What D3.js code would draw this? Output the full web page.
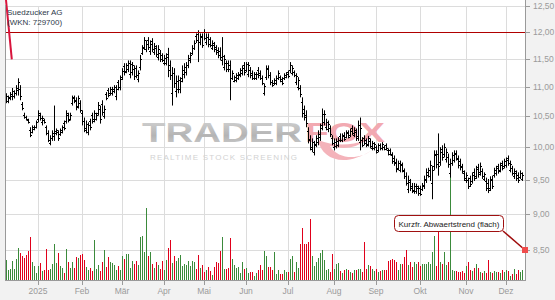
<!DOCTYPE html>
<html>
<head>
<meta charset="utf-8">
<script src="https://d3js.org/d3.v7.min.js"></script>
<style>
  body { margin: 0; background: #f2f2f2; }
  svg { display: block; font-family: "Liberation Sans", Arial, sans-serif; }
</style>
</head>
<body>
<script>
// Suedzucker AG, daily OHLC (EUR), one entry per trading day, 9 Dec 2024 .. 11 Dec 2025
var open = [
 10.78,10.76,10.81,10.84,10.84,10.90,10.95,10.97,10.70,10.53, 10.49,10.44,10.28,10.25,10.29,10.33,10.45,10.53,10.40,10.44,
 10.32,10.23,10.07,10.14,10.18,10.22,10.24,10.21,10.25,10.39, 10.43,10.52,10.46,10.72,10.82,10.77,10.68,10.72,10.55,10.43,
 10.27,10.24,10.42,10.52,10.45,10.46,10.56,10.62,10.71,10.51, 10.88,10.94,10.89,10.89,10.92,10.84,11.08,11.00,11.17,11.37,
 11.28,11.31,11.23,11.26,11.32,11.33,11.13,11.36,11.61,11.72, 11.67,11.84,11.64,11.82,11.62,11.70,11.54,11.61,11.56,11.43,
 11.43,11.58,11.38,10.90,11.25,10.92,10.97,10.96,11.15,11.22, 11.26,11.39,11.47,11.61,11.70,11.93,11.96,11.80,11.92,12.00,
 11.80,11.91,11.86,11.70,11.76,11.71,11.66,11.65,11.48,11.36, 11.42,11.42,11.38,11.16,11.11,11.12,11.15,11.21,11.25,11.38,
 11.30,11.23,11.30,11.25,11.15,11.15,11.30,11.25,11.16,10.90, 11.18,11.33,11.21,11.09,11.06,11.07,11.16,11.17,11.14,11.15,
 11.18,11.26,11.29,11.25,11.26,11.08,11.00,10.98,10.74,10.62, 10.53,10.26,10.13,9.97,9.93,10.05,10.09,10.17,10.36,10.41,
 10.32,10.29,10.30,10.15,10.00,10.02,10.04,10.18,10.11,10.20, 10.17,10.24,10.19,10.31,10.20,10.25,10.18,10.08,10.12,10.15,
 10.11,10.05,10.10,9.99,9.98,10.00,9.95,10.03,9.98,10.01, 10.03,9.96,9.95,9.88,9.83,9.77,9.68,9.65,9.72,9.63,
 9.56,9.36,9.47,9.41,9.33,9.33,9.37,9.37,9.36,9.41, 9.50,9.57,9.55,9.45,9.71,9.89,9.90,9.77,9.97,9.89,
 9.81,9.85,9.60,9.76,9.80,9.91,9.82,9.78,9.70,9.60, 9.49,9.49,9.52,9.48,9.62,9.56,9.69,9.61,9.63,9.51,
 9.48,9.45,9.38,9.51,9.57,9.60,9.70,9.65,9.75,9.71, 9.72,9.83,9.65,9.67,9.55,9.60,9.57,9.54,9.51
];
var high = [
 10.89,10.85,10.91,10.98,10.94,11.03,11.15,11.03,10.74,10.56, 10.51,10.46,10.32,10.35,10.35,10.43,10.60,10.56,10.51,10.46,
 10.35,10.27,10.19,10.27,10.68,10.30,10.27,10.30,10.35,10.43, 10.60,10.56,10.56,10.85,10.85,10.82,10.85,10.77,10.60,10.48,
 10.43,10.40,10.46,10.56,10.60,10.56,10.74,10.68,10.77,10.68, 10.91,10.98,11.00,11.00,11.03,11.03,11.12,11.20,11.33,11.42,
 11.42,11.47,11.47,11.44,11.38,11.38,11.29,11.57,11.75,11.90, 11.84,11.90,11.84,11.88,11.79,11.75,11.75,11.66,11.60,11.57,
 11.60,11.70,11.47,11.35,11.33,11.20,11.20,11.17,11.38,11.42, 11.44,11.57,11.62,11.75,11.84,11.97,12.03,11.97,11.97,12.05,
 11.97,11.97,11.90,11.84,11.81,11.75,11.71,11.71,11.90,11.57, 11.47,11.47,11.47,11.29,11.20,11.24,11.26,11.33,11.38,11.44,
 11.44,11.44,11.35,11.29,11.26,11.26,11.35,11.29,11.20,11.06, 11.38,11.38,11.26,11.12,11.15,11.20,11.29,11.20,11.17,11.24,
 11.26,11.29,11.44,11.38,11.29,11.24,11.17,11.03,10.82,10.68, 10.60,10.32,10.19,10.14,10.10,10.19,10.27,10.38,10.63,10.60,
 10.46,10.43,10.35,10.19,10.14,10.14,10.16,10.22,10.22,10.24, 10.27,10.27,10.30,10.35,10.32,10.30,10.43,10.48,10.16,10.19,
 10.14,10.18,10.14,10.10,10.08,10.03,10.06,10.06,10.08,10.03, 10.06,9.98,9.98,9.92,9.87,9.82,9.79,9.79,9.76,9.67,
 9.61,9.56,9.51,9.45,9.45,9.44,9.41,9.41,9.45,9.56, 9.67,9.68,9.79,9.71,9.95,9.95,10.22,10.00,10.03,10.06,
 9.98,9.90,9.82,9.92,9.95,9.95,9.87,9.82,9.74,9.64, 9.61,9.53,9.56,9.61,9.67,9.71,9.74,9.76,9.67,9.61,
 9.53,9.51,9.55,9.56,9.68,9.71,9.74,9.76,9.79,9.82, 9.84,9.87,9.79,9.71,9.67,9.64,9.61,9.64,9.61
];
var low = [
 10.72,10.72,10.77,10.77,10.80,10.85,10.85,10.77,10.60,10.46, 10.43,10.38,10.16,10.22,10.27,10.30,10.40,10.43,10.35,10.38,
 10.19,10.08,10.03,10.10,10.10,10.19,10.10,10.18,10.22,10.27, 10.38,10.40,10.43,10.68,10.72,10.60,10.63,10.56,10.35,10.24,
 10.22,10.19,10.27,10.38,10.40,10.43,10.51,10.38,10.51,10.46, 10.77,10.82,10.85,10.85,10.89,10.77,10.94,10.94,11.12,11.20,
 11.24,11.26,11.15,11.20,11.12,11.15,11.08,11.29,11.57,11.66, 11.62,11.66,11.57,11.62,11.57,11.53,11.47,11.44,11.44,11.38,
 11.38,11.17,11.12,10.68,10.98,10.82,10.89,10.89,11.08,11.15, 11.20,11.33,11.42,11.57,11.66,11.79,11.44,11.75,11.70,11.84,
 11.75,11.71,11.71,11.66,11.62,11.57,11.51,11.47,11.38,11.29, 11.26,11.26,10.77,11.12,11.08,11.08,11.12,11.17,11.20,11.20,
 11.26,11.17,11.15,11.12,11.12,11.12,11.15,11.12,11.03,10.85, 11.12,11.15,11.03,11.00,11.03,11.03,11.12,11.08,11.03,11.12,
 11.15,11.15,11.24,11.20,11.17,11.03,10.94,10.82,10.48,10.43, 10.32,10.06,9.95,9.92,9.87,10.00,10.03,10.10,10.27,10.35,
 10.27,10.24,10.16,10.03,9.95,9.98,10.00,10.08,10.08,10.10, 10.14,10.14,10.16,10.19,10.16,10.10,10.10,9.95,10.00,10.03,
 10.00,10.01,9.98,9.95,9.95,9.90,9.92,9.95,9.95,9.95, 9.95,9.87,9.87,9.74,9.71,9.61,9.64,9.61,9.61,9.51,
 9.41,9.30,9.33,9.30,9.29,9.29,9.26,9.26,9.33,9.36, 9.45,9.53,9.48,9.21,9.64,9.67,9.56,9.71,9.79,9.84,
 9.76,9.68,9.53,9.71,9.76,9.79,9.67,9.64,9.59,9.48, 9.45,9.36,9.39,9.44,9.48,9.51,9.53,9.56,9.51,9.48,
 9.33,9.30,9.33,9.36,9.53,9.56,9.59,9.61,9.64,9.67, 9.68,9.71,9.61,9.56,9.51,9.48,9.45,9.51,9.48
];
var close = [
 10.85,10.82,10.88,10.93,10.90,10.98,11.08,10.85,10.64,10.49, 10.46,10.40,10.20,10.32,10.33,10.40,10.55,10.47,10.48,10.40,
 10.23,10.12,10.15,10.23,10.26,10.27,10.14,10.27,10.32,10.31, 10.55,10.44,10.53,10.81,10.76,10.66,10.80,10.61,10.42,10.30,
 10.38,10.35,10.32,10.43,10.55,10.53,10.69,10.45,10.58,10.63, 10.81,10.86,10.96,10.96,10.99,10.97,10.99,11.14,11.28,11.26,
 11.38,11.42,11.40,11.38,11.19,11.21,11.24,11.50,11.70,11.84, 11.78,11.72,11.77,11.68,11.73,11.59,11.68,11.50,11.48,11.52,
 11.54,11.30,11.20,11.25,11.07,11.10,11.12,11.10,11.30,11.35, 11.38,11.51,11.57,11.70,11.79,11.84,11.80,11.91,11.76,11.89,
 11.91,11.78,11.76,11.79,11.67,11.62,11.56,11.53,11.55,11.50, 11.32,11.31,11.15,11.25,11.17,11.20,11.22,11.29,11.34,11.26,
 11.40,11.38,11.20,11.16,11.22,11.23,11.20,11.16,11.07,11.01, 11.32,11.21,11.08,11.03,11.12,11.16,11.25,11.11,11.07,11.21,
 11.23,11.19,11.39,11.34,11.20,11.19,11.12,10.87,10.56,10.49, 10.39,10.12,10.01,10.08,10.04,10.14,10.21,10.31,10.54,10.54,
 10.41,10.38,10.21,10.07,10.09,10.10,10.12,10.11,10.18,10.13, 10.23,10.17,10.26,10.23,10.28,10.15,10.35,10.30,10.04,10.07,
 10.04,10.14,10.02,10.06,10.05,9.93,10.03,9.98,10.05,9.97, 9.98,9.90,9.89,9.78,9.75,9.66,9.75,9.74,9.65,9.55,
 9.45,9.50,9.37,9.34,9.41,9.40,9.30,9.29,9.42,9.51, 9.62,9.64,9.72,9.65,9.88,9.74,9.70,9.93,9.85,10.00,
 9.93,9.74,9.76,9.87,9.90,9.83,9.72,9.69,9.63,9.52, 9.57,9.40,9.43,9.57,9.53,9.66,9.58,9.71,9.55,9.58,
 9.38,9.35,9.50,9.41,9.64,9.67,9.63,9.72,9.68,9.78, 9.80,9.75,9.74,9.60,9.63,9.52,9.49,9.60,9.57
];
// volume in 1000 shares
var volume = [
 200,100,110,190,110,210,320,270,240,220, 250,290,430,180,140,70,140,170,90,100,
 310,100,110,160,360,170,270,140,120,70, 310,180,120,180,120,230,220,250,260,200,
 130,100,120,90,400,110,150,90,180,300, 130,230,180,170,150,100,140,100,240,210,
 260,260,120,190,160,190,150,430,440,280, 720,240,280,160,120,180,150,110,190,100,
 200,320,400,170,240,190,220,250,140,160, 150,190,140,190,180,110,250,120,150,80,
 100,130,90,50,130,180,170,290,430,110, 110,120,420,210,150,120,130,70,180,110,
 120,70,80,80,40,70,100,150,100,290, 240,130,130,100,280,60,100,60,60,100,
 80,80,210,240,80,180,120,360,520,360, 360,380,610,240,140,180,220,270,300,200,
 100,110,80,260,110,160,170,90,70,100, 110,100,80,70,100,100,110,110,80,380,
 110,150,140,110,90,110,80,90,100,100, 100,190,200,210,200,180,100,160,160,230,
 300,150,180,130,180,160,180,140,160,160, 160,180,160,280,440,140,520,180,160,280,
 150,180,1030,100,90,90,80,80,90,70, 140,180,100,90,120,160,120,80,70,90,
 70,200,80,70,90,80,80,70,100,80, 100,90,40,60,110,60,100,80,100
];

// x axis: index of the first trading day of each month
var monthIdx = [16, 38, 58, 79, 99, 120, 141, 164, 185, 207, 230, 250];
var monthLabels = ["2025", "Feb", "Mär", "Apr", "Mai", "Jun", "Jul", "Aug", "Sep", "Okt", "Nov", "Dez"];
var priceTicks = [8.5, 9, 9.5, 10, 10.5, 11, 11.5, 12, 12.5];

var resistance = 12.0;
var trendLine = [[0, 12.62], [2.9, 11.49]];
var signalLevel = 8.5;
var signalText = "Kurzfr. Abwaertstrend (flach)";
var titleLines = ["Suedzucker AG", "(WKN: 729700)"];

var svgWidth = 555;
var svgHeight = 300;
var plot = { left: 5, right: 525, top: 0, bottom: 280 };

var svg = d3.select("body").append("svg")
  .attr("width", svgWidth)
  .attr("height", svgHeight);

svg.append("rect")
  .attr("x", 0).attr("y", 0).attr("width", svgWidth).attr("height", svgHeight)
  .attr("fill", "#f2f2f2");
svg.append("rect")
  .attr("x", plot.left).attr("y", plot.top)
  .attr("width", plot.right - plot.left).attr("height", plot.bottom - plot.top)
  .attr("fill", "#ffffff");

var x = d3.scaleLinear().domain([0, 258]).range([6, 522]);
var y = d3.scaleLog().domain([8.5, 12.5]).range([250, 6]);
var yVol = d3.scaleLinear().domain([0, 1000]).range([plot.bottom, plot.bottom - 100]);

var fmt = d3.formatLocale({ decimal: ",", thousands: ".", grouping: [3], currency: ["", "€"] }).format(".2f");

// grid
var grid = svg.append("g").attr("stroke", "#dcdcdc").attr("stroke-width", 1);
grid.selectAll(".hgrid").data(priceTicks).enter().append("line")
  .attr("x1", plot.left).attr("x2", plot.right)
  .attr("y1", d => Math.round(y(d)) + 0.5).attr("y2", d => Math.round(y(d)) + 0.5);
grid.selectAll(".vgrid").data(monthIdx).enter().append("line")
  .attr("x1", d => Math.round(x(d)) + 0.5).attr("x2", d => Math.round(x(d)) + 0.5)
  .attr("y1", 6).attr("y2", plot.bottom);

// watermark
var wm = svg.append("g");
var grad = svg.append("defs").append("linearGradient")
  .attr("id", "wmgrey").attr("x1", 0).attr("y1", 0).attr("x2", 0).attr("y2", 1);
grad.append("stop").attr("offset", "0%").attr("stop-color", "#d6d6d6");
grad.append("stop").attr("offset", "60%").attr("stop-color", "#b4b4b4");
grad.append("stop").attr("offset", "100%").attr("stop-color", "#cfcfcf");
wm.append("path")
  .attr("d", "M318,140 C322,160 345,168 372,150 C360,160 338,160 330,146 C345,150 356,148 366,140 C350,146 334,146 318,140 Z")
  .attr("fill", "#f4b3ba");
wm.append("text")
  .attr("x", 142).attr("y", 142)
  .attr("font-size", 28).attr("font-weight", "bold")
  .attr("textLength", 160).attr("lengthAdjust", "spacingAndGlyphs")
  .attr("fill", "url(#wmgrey)")
  .text("TRADER");
wm.append("text")
  .attr("x", 305).attr("y", 142)
  .attr("font-size", 28).attr("font-weight", "bold")
  .attr("textLength", 80).attr("lengthAdjust", "spacingAndGlyphs")
  .attr("fill", "#f2a9b1")
  .text("FOX");
wm.append("text")
  .attr("x", 150).attr("y", 160)
  .attr("font-size", 8)
  .attr("textLength", 147).attr("lengthAdjust", "spacing")
  .attr("fill", "#d2d2d2")
  .text("REALTIME STOCK SCREENING");

// volume bars
var bars = d3.range(close.length);
svg.append("g").selectAll("rect").data(bars).enter().append("rect")
  .attr("x", i => Math.round(x(i)))
  .attr("y", i => yVol(volume[i]))
  .attr("width", 1)
  .attr("height", i => plot.bottom - yVol(volume[i]))
  .attr("fill", i => close[i] >= open[i] ? "#3b8a3b" : "#e0001b");

// OHLC bars
var ohlc = svg.append("g").attr("stroke", "#000").attr("stroke-width", 1);
ohlc.selectAll(".hl").data(bars).enter().append("line")
  .attr("x1", i => Math.round(x(i)) + 0.5).attr("x2", i => Math.round(x(i)) + 0.5)
  .attr("y1", i => y(high[i])).attr("y2", i => y(low[i]));
ohlc.selectAll(".op").data(bars).enter().append("line")
  .attr("x1", i => Math.round(x(i)) - 1).attr("x2", i => Math.round(x(i)))
  .attr("y1", i => Math.round(y(open[i])) + 0.5).attr("y2", i => Math.round(y(open[i])) + 0.5);
ohlc.selectAll(".cl").data(bars).enter().append("line")
  .attr("x1", i => Math.round(x(i)) + 1).attr("x2", i => Math.round(x(i)) + 2)
  .attr("y1", i => Math.round(y(close[i])) + 0.5).attr("y2", i => Math.round(y(close[i])) + 0.5);

// resistance line at 12,00
svg.append("line")
  .attr("x1", plot.left).attr("x2", plot.right)
  .attr("y1", Math.round(y(resistance)) + 0.5).attr("y2", Math.round(y(resistance)) + 0.5)
  .attr("stroke", "#b00000").attr("stroke-width", 1);

// old trend line top left
svg.append("line")
  .attr("x1", x(trendLine[0][0])).attr("y1", y(trendLine[0][1]))
  .attr("x2", x(trendLine[1][0])).attr("y2", y(trendLine[1][1]))
  .attr("stroke", "#d8143c").attr("stroke-width", 2);

// axes frame
svg.append("line")
  .attr("x1", plot.left + 0.5).attr("x2", plot.left + 0.5)
  .attr("y1", 5).attr("y2", plot.bottom)
  .attr("stroke", "#9a9a9a");
svg.append("line")
  .attr("x1", plot.right + 0.5).attr("x2", plot.right + 0.5)
  .attr("y1", 0).attr("y2", plot.bottom + 1)
  .attr("stroke", "#9a9a9a");
svg.append("line")
  .attr("x1", plot.left).attr("x2", plot.right + 1)
  .attr("y1", plot.bottom + 0.5).attr("y2", plot.bottom + 0.5)
  .attr("stroke", "#9a9a9a");

// right price axis
var yAxis = svg.append("g");
yAxis.selectAll("line").data(priceTicks).enter().append("line")
  .attr("x1", plot.right).attr("x2", plot.right + 5)
  .attr("y1", d => Math.round(y(d)) + 0.5).attr("y2", d => Math.round(y(d)) + 0.5)
  .attr("stroke", "#9a9a9a");
yAxis.selectAll("text").data(priceTicks).enter().append("text")
  .attr("x", plot.right + 8)
  .attr("y", d => y(d) + 3)
  .attr("font-size", 8.5)
  .attr("fill", "#9a9a9a")
  .text(d => fmt(d));

// bottom month axis
var xAxis = svg.append("g");
xAxis.selectAll("line").data(monthIdx).enter().append("line")
  .attr("x1", d => Math.round(x(d)) + 0.5).attr("x2", d => Math.round(x(d)) + 0.5)
  .attr("y1", plot.bottom).attr("y2", plot.bottom + 5)
  .attr("stroke", "#9a9a9a");
xAxis.selectAll("text").data(monthIdx).enter().append("text")
  .attr("x", d => x(d))
  .attr("y", 294)
  .attr("text-anchor", "middle")
  .attr("font-size", 8.5)
  .attr("fill", "#9a9a9a")
  .text((d, i) => monthLabels[i]);

// title
svg.append("g").selectAll("text").data(titleLines).enter().append("text")
  .attr("x", 7)
  .attr("y", (d, i) => 15 + i * 10)
  .attr("font-size", 8)
  .attr("fill", "#2e3a4a")
  .text(d => d);

// signal box with pointer to 8,50
var sx = plot.right, sy = y(signalLevel);
svg.append("line")
  .attr("x1", 503).attr("y1", 231)
  .attr("x2", sx).attr("y2", sy)
  .attr("stroke", "#9e0a0a").attr("stroke-width", 1.5);
svg.append("rect")
  .attr("x", sx - 3).attr("y", sy - 3).attr("width", 6).attr("height", 6)
  .attr("fill", "#ef4c4c");
svg.append("rect")
  .attr("x", 394.5).attr("y", 215.5).attr("width", 109).attr("height", 16).attr("rx", 4)
  .attr("fill", "#ffffff").attr("stroke", "#a01010");
svg.append("text")
  .attr("x", 449).attr("y", 226.5)
  .attr("text-anchor", "middle")
  .attr("font-size", 8)
  .attr("fill", "#222")
  .text(signalText);
</script>
</body>
</html>
